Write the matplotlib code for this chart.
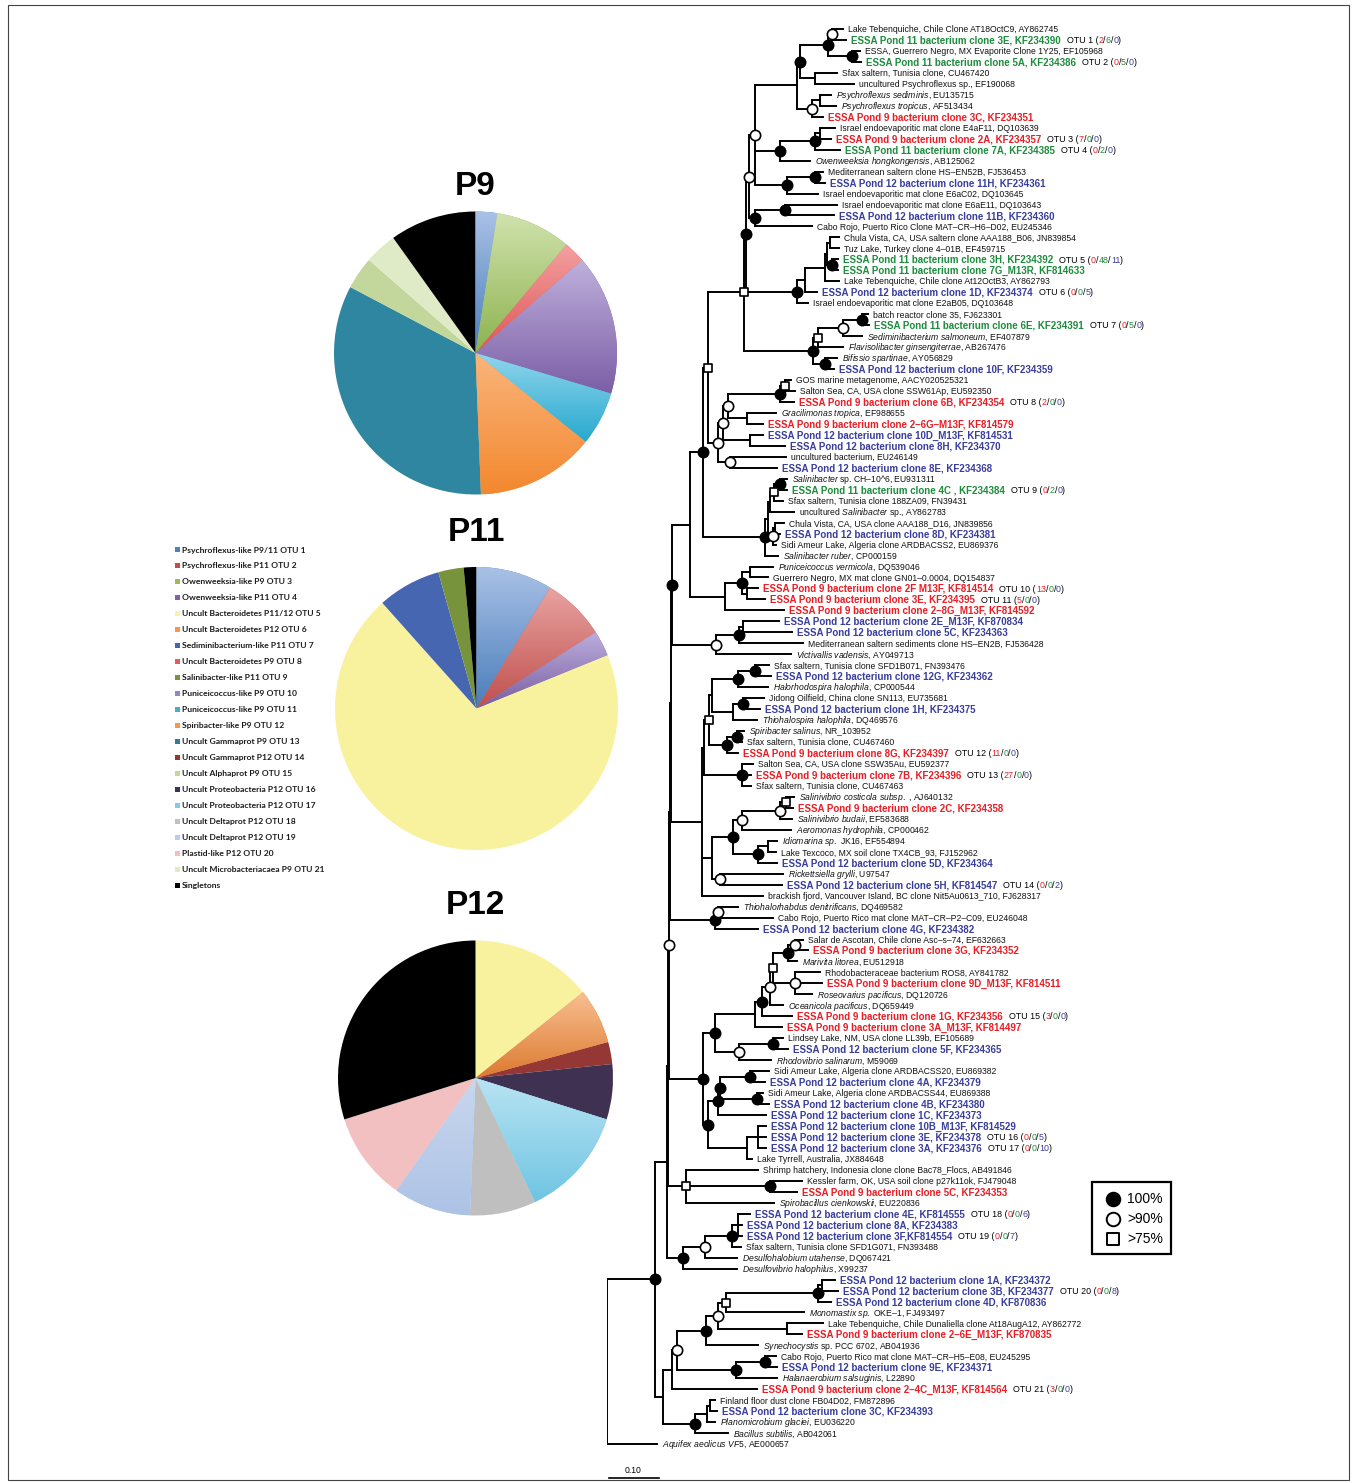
import re
import numpy as np
import matplotlib
matplotlib.use("Agg")
import matplotlib.pyplot as plt
from matplotlib.collections import LineCollection
from matplotlib.patches import Rectangle
from matplotlib.colors import to_rgb

plt.rcParams["font.family"] = ["Liberation Sans", "DejaVu Sans"]
plt.rcParams["mathtext.fontset"] = "custom"
plt.rcParams["mathtext.rm"] = "Liberation Sans"
plt.rcParams["mathtext.it"] = "Liberation Sans:italic"
plt.rcParams["mathtext.bf"] = "Liberation Sans:bold"

W, H = 1356, 1483

# ---------------- tree data ----------------
LEAF_NAMES = [
    "Lake Tebenquiche, Chile Clone AT18OctC9, AY862745",
    "ESSA Pond 11 bacterium clone 3E, KF234390",
    "ESSA, Guerrero Negro, MX Evaporite Clone 1Y25, EF105968",
    "ESSA Pond 11 bacterium clone 5A, KF234386",
    "Sfax saltern, Tunisia clone, CU467420",
    "uncultured Psychroflexus sp., EF190068",
    "*Psychroflexus sediminis*, EU135715",
    "*Psychroflexus tropicus*, AF513434",
    "ESSA Pond 9 bacterium clone 3C, KF234351",
    "Israel endoevaporitic mat clone E4aF11, DQ103639",
    "ESSA Pond 9 bacterium clone 2A, KF234357",
    "ESSA Pond 11 bacterium clone 7A, KF234385",
    "*Owenweeksia hongkongensis*, AB125062",
    "Mediterranean saltern clone HS–EN52B, FJ536453",
    "ESSA Pond 12 bacterium clone 11H, KF234361",
    "Israel endoevaporitic mat clone E6aC02, DQ103645",
    "Israel endoevaporitic mat clone E6aE11, DQ103643",
    "ESSA Pond 12 bacterium clone 11B, KF234360",
    "Cabo Rojo, Puerto Rico Clone MAT–CR–H6–D02, EU245346",
    "Chula Vista, CA, USA saltern clone AAA188_B06, JN839854",
    "Tuz Lake, Turkey clone 4–01B, EF459715",
    "ESSA Pond 11 bacterium clone 3H, KF234392",
    "ESSA Pond 11 bacterium clone 7G_M13R, KF814633",
    "Lake Tebenquiche, Chile clone At12OctB3, AY862793",
    "ESSA Pond 12 bacterium clone 1D, KF234374",
    "Israel endoevaporitic mat clone E2aB05, DQ103648",
    "batch reactor clone 35, FJ623301",
    "ESSA Pond 11 bacterium clone 6E, KF234391",
    "*Sediminibacterium salmoneum*, EF407879",
    "*Flavisolibacter ginsengiterrae*, AB267476",
    "*Bifissio spartinae*, AY056829",
    "ESSA Pond 12 bacterium clone 10F, KF234359",
    "GOS marine metagenome, AACY020525321",
    "Salton Sea, CA, USA clone SSW61Ap, EU592350",
    "ESSA Pond 9 bacterium clone 6B, KF234354",
    "*Gracilimonas tropica*, EF988655",
    "ESSA Pond 9 bacterium clone 2–6G–M13F, KF814579",
    "ESSA Pond 12 bacterium clone 10D_M13F, KF814531",
    "ESSA Pond 12 bacterium clone 8H, KF234370",
    "uncultured bacterium, EU246149",
    "ESSA Pond 12 bacterium clone 8E, KF234368",
    "*Salinibacter* sp. CH–10^6, EU931311",
    "ESSA Pond 11 bacterium clone 4C , KF234384",
    "Sfax saltern, Tunisia clone 188ZA09, FN39431",
    "uncultured *Salinibacter* sp., AY862783",
    "Chula Vista, CA, USA clone AAA188_D16, JN839856",
    "ESSA Pond 12 bacterium clone 8D, KF234381",
    "Sidi Ameur Lake, Algeria clone ARDBACSS2, EU869376",
    "*Salinibacter ruber*, CP000159",
    "*Puniceicoccus vermicola*, DQ539046",
    "Guerrero Negro, MX mat clone GN01–0.0004, DQ154837",
    "ESSA Pond 9 bacterium clone 2F M13F, KF814514",
    "ESSA Pond 9 bacterium clone 3E, KF234395",
    "ESSA Pond 9 bacterium clone 2–8G_M13F, KF814592",
    "ESSA Pond 12 bacterium clone 2E_M13F, KF870834",
    "ESSA Pond 12 bacterium clone 5C, KF234363",
    "Mediterranean saltern sediments clone HS–EN2B, FJ536428",
    "*Victivallis vadensis*, AY049713",
    "Sfax saltern, Tunisia clone SFD1B071, FN393476",
    "ESSA Pond 12 bacterium clone 12G, KF234362",
    "*Halorhodospira halophila*, CP000544",
    "Jidong Oilfield, China clone SN113, EU735681",
    "ESSA Pond 12 bacterium clone 1H, KF234375",
    "*Thiohalospira halophila*, DQ469576",
    "*Spiribacter salinus*, NR_103952",
    "Sfax saltern, Tunisia clone, CU467460",
    "ESSA Pond 9 bacterium clone 8G, KF234397",
    "Salton Sea, CA, USA clone SSW35Au, EU592377",
    "ESSA Pond 9 bacterium clone 7B, KF234396",
    "Sfax saltern, Tunisia clone, CU467463",
    "*Salinivibrio costicola subsp.* , AJ640132",
    "ESSA Pond 9 bacterium clone 2C, KF234358",
    "*Salinivibrio budaii*, EF583688",
    "*Aeromonas hydrophila*, CP000462",
    "*Idiomarina sp.* JK16, EF554894",
    "Lake Texcoco, MX soil clone TX4CB_93, FJ152962",
    "ESSA Pond 12 bacterium clone 5D, KF234364",
    "*Rickettsiella grylli*, U97547",
    "ESSA Pond 12 bacterium clone 5H, KF814547",
    "brackish fjord, Vancouver Island, BC clone Nit5Au0613_710, FJ628317",
    "*Thiohalorhabdus denitrificans*, DQ469582",
    "Cabo Rojo, Puerto Rico mat clone MAT–CR–P2–C09, EU246048",
    "ESSA Pond 12 bacterium clone 4G, KF234382",
    "Salar de Ascotan, Chile clone Asc–s–74, EF632663",
    "ESSA Pond 9 bacterium clone 3G, KF234352",
    "*Marivita litorea*, EU512918",
    "Rhodobacteraceae bacterium ROS8, AY841782",
    "ESSA Pond 9 bacterium clone 9D_M13F, KF814511",
    "*Roseovarius pacificus*, DQ120726",
    "*Oceanicola pacificus*, DQ659449",
    "ESSA Pond 9 bacterium clone 1G, KF234356",
    "ESSA Pond 9 bacterium clone 3A_M13F, KF814497",
    "Lindsey Lake, NM, USA clone LL39b, EF105689",
    "ESSA Pond 12 bacterium clone 5F, KF234365",
    "*Rhodovibrio salinarum*, M59069",
    "Sidi Ameur Lake, Algeria clone ARDBACSS20, EU869382",
    "ESSA Pond 12 bacterium clone 4A, KF234379",
    "Sidi Ameur Lake, Algeria clone ARDBACSS44, EU869388",
    "ESSA Pond 12 bacterium clone 4B, KF234380",
    "ESSA Pond 12 bacterium clone 1C, KF234373",
    "ESSA Pond 12 bacterium clone 10B_M13F, KF814529",
    "ESSA Pond 12 bacterium clone 3E, KF234378",
    "ESSA Pond 12 bacterium clone 3A, KF234376",
    "Lake Tyrrell, Australia, JX884648",
    "Shrimp hatchery, Indonesia clone clone Bac78_Flocs, AB491846",
    "Kessler farm, OK, USA soil clone p27k11ok, FJ479048",
    "ESSA Pond 9 bacterium clone 5C, KF234353",
    "*Spirobacillus cienkowskii*, EU220836",
    "ESSA Pond 12 bacterium clone 4E, KF814555",
    "ESSA Pond 12 bacterium clone 8A, KF234383",
    "ESSA Pond 12 bacterium clone 3F,KF814554",
    "Sfax saltern, Tunisia clone SFD1G071, FN393488",
    "*Desulfohalobium utahense*, DQ067421",
    "*Desulfovibrio halophilus*, X99237",
    "ESSA Pond 12 bacterium clone 1A, KF234372",
    "ESSA Pond 12 bacterium clone 3B, KF234377",
    "ESSA Pond 12 bacterium clone 4D, KF870836",
    "*Monomastix sp.* OKE–1, FJ493497",
    "Lake Tebenquiche, Chile Dunaliella clone At18AugA12, AY862772",
    "ESSA Pond 9 bacterium clone 2–6E_M13F, KF870835",
    "*Synechocystis* sp. PCC 6702, AB041936",
    "Cabo Rojo, Puerto Rico mat clone MAT–CR–H5–E08, EU245295",
    "ESSA Pond 12 bacterium clone 9E, KF234371",
    "*Halanaerobium salsuginis*, L22890",
    "ESSA Pond 9 bacterium clone 2–4C_M13F, KF814564",
    "Finland floor dust clone FB04D02, FM872896",
    "ESSA Pond 12 bacterium clone 3C, KF234393",
    "*Planomicrobium glaciei*, EU036220",
    "*Bacillus subtilis*, AB042061",
    "*Aquifex aeolicus VF5*, AE000657",
]

# newick pieces: leaf = index into LEAF_NAMES (1-based), F = 100%, O = >90%, S = >75%
A = "((1:.022,2:.028)O:.008,(3:.016,4:.018)F:.048)F"
D = f"({A}:.056,(5:.044,6:.078):.030)F"
E = f"({D}:.006,((7:.022,8:.032):.016,9:.022)O:.030)"
G = "(((10:.030,11:.022):.010,12:.050)F:.070,13:.060)F"
J = "((14:.016,15:.020)F:.056,16:.062)F"
HH = f"({E}:.084,{G}:.050,{J}:.064)O"
L = "((17:.104,18:.098)F:.060,19:.114)F"
M0 = f"({HH}:.012,{L}:.012)O"
X3 = "((20:.018,21:.018):.006,(22:.012,23:.012)F:.010)"
Y2 = f"((({X3}:.004,24:.028):.040,25:.024):.016,26:.022)F"
WW = "((((27:.012,28:.014)F:.038,29:.038)O:.050,30:.050)S:.010,(31:.024,32:.018)F:.024)F"
N1 = f"(({M0}:.006,{Y2}:.102)F:.004,{WW}:.138)S"
R1 = "((33:.012,34:.020)S:.010,35:.028)F"
R2 = f"({R1}:.104,(36:.058,37:.032):.038)O"
R3 = f"({R2}:.010,(38:.026,39:.070):.054)O"
R4 = f"({R3}:.010,(40:.112,41:.094)O:.024)O"
SQ = f"({N1}:.072,{R4}:.020)S"
N45 = "(((42:.014,43:.014)F:.012,44:.018)S:.008,45:.048)"
OS = "((46:.018,47:.010):.004,48:.006)O"
S2 = f"(({N45}:.004,{OS}:.010):.006,49:.026)F"
Q = f"({SQ}:.010,{S2}:.124)F"
P2 = "(((50:.046,51:.036):.016,(52:.022,53:.036):.010)F:.034,54:.118)"
V2 = "(((55:.072,56:.098):.008,57:.128)F:.046,58:.150)O"
G3 = "(((59:.028,60:.032)F:.034,61:.060)F:.052,((62:.042,63:.034)F:.020,64:.048):.042)"
G4a = "((65:.014,66:.010)F:.020,67:.022)F"
GA = f"(({G3}:.006,{G4a}:.036)S:.010,(68:.022,69:.018,70:.018)F:.076)"
O73 = "((71:.016,72:.014)S:.012,73:.024)O"
F733 = f"(({O73}:.076,74:.098)O:.018,((75:.018,76:.016):.020,77:.038)F:.050)F"
G5 = f"({F733}:.042,(78:.126,79:.124)O:.016)"
GAM = f"({GA}:.004,{G5}:.020,80:.122)"
T1 = "((81:.040,82:.110)O:.006,83:.086)F"
A4 = "(((84:.016,85:.026)O:.014,86:.018)F:.030,(87:.050,88:.054,89:.034)O:.044)S"
A7 = f"((({A4}:.006,90:.026)O:.016,91:.060)F:.014,92:.054)"
A8 = f"({A7}:.080,((93:.020,94:.030)F:.068,95:.064)O:.048)F"
B4 = "(((96:.038,97:.030)F:.060,(98:.012,99:.024)F:.074)F:.004,100:.096)F"
B7 = f"({B4}:.020,((101:.016,102:.016,103:.016):.022,104:.010):.078)F"
AL = f"({A8}:.024,{B7}:.010)F"
BK3 = "(105:.144,(106:.064,107:.054)F:.168,108:.176)S"
DEL = "((((109:.024,110:.008,111:.008):.012,112:.018)F:.054,113:.064)O:.044,114:.108)F"
D5 = "((((115:.026,116:.032):.008,117:.026)F:.184,118:.156)S:.016,(119:.072,120:.030):.138)O"
D9 = f"(({D5}:.024,121:.104)F:.058,((122:.022,123:.024)F:.058,124:.082)F:.118)O"
LB = f"(({D9}:.010,125:.170):.018,(((126:.010,127:.014):.006,128:.016):.024,129:.066)F:.064)"
# backbone: short internal branches stacked along one line
K1 = f"(({Q}:.026,{P2}:.070):.036,{V2}:.088)F"
K4 = f"((({K1}:.002,{GAM}:.062):.002,{T1}:.090):.002,{AL}:.068)O"
K6 = f"(({K4}:.002,{BK3}:.036):.002,{DEL}:.032)"
TREE = f"(({K6}:.024,{LB}:.016)F:.096,130:.100)"

# OTU table: leaf carrying the OTU label, clone counts in P9 / P11 / P12
OTU_LEAF = [2, 4, 11, 12, 22, 25, 28, 35, 43, 52, 53, 67, 69, 79, 91, 102, 103, 109, 111, 116, 125]
OTU_P9 = [2, 0, 7, 0, 0, 0, 0, 2, 0, 13, 5, 11, 27, 0, 3, 0, 0, 0, 0, 0, 3]
OTU_P11 = [6, 5, 0, 2, 48, 0, 5, 0, 2, 0, 0, 0, 0, 0, 0, 0, 0, 0, 0, 0, 0]
OTU_P12 = [0, 0, 0, 0, 11, 5, 0, 0, 0, 0, 0, 0, 0, 2, 0, 5, 10, 6, 7, 8, 0]
SINGLETONS = [8, 1, 23]
POND_NAMES = ["P9", "P11", "P12"]

LEGEND_NAMES = [
    "Psychroflexus-like P9/11 OTU 1", "Psychroflexus-like P11 OTU 2",
    "Owenweeksia-like P9 OTU 3", "Owenweeksia-like P11 OTU 4",
    "Uncult Bacteroidetes P11/12 OTU 5", "Uncult Bacteroidetes P12 OTU 6",
    "Sediminibacterium-like P11 OTU 7", "Uncult Bacteroidetes P9 OTU 8",
    "Salinibacter-like P11 OTU 9", "Puniceicoccus-like P9 OTU 10",
    "Puniceicoccus-like P9 OTU 11", "Spiribacter-like P9 OTU 12",
    "Uncult Gammaprot P9 OTU 13", "Uncult Gammaprot P12 OTU 14",
    "Uncult Alphaprot P9 OTU 15", "Uncult Proteobacteria P12 OTU 16",
    "Uncult Proteobacteria P12 OTU 17", "Uncult Deltaprot P12 OTU 18",
    "Uncult Deltaprot P12 OTU 19", "Plastid-like P12 OTU 20",
    "Uncult Microbacteriacaea P9 OTU 21", "Singletons",
]

# slice colours: bottom (base) and top of the vertical gradient
OTU_BASE = ["#4a7ebb", "#c0504d", "#8db34f", "#7a5fa0", "#f8f29e", "#dc7a30", "#4666b1",
            "#e05555", "#77933c", "#7b5ea6", "#27a9cf", "#f3882f", "#2e86a0", "#953735",
            "#c3d69b", "#3f3151", "#6fc5e2", "#bfbfbf", "#adc3e6", "#f2c0c0", "#dfeac6", "#000000"]
OTU_TOP = ["#a9c1e6", "#e8a3a1", "#d0e2ad", "#bcaede", "#f8f29e", "#f9bf92", "#4666b1",
           "#f4a0a0", "#77933c", "#bfb0dc", "#90d5ec", "#fab57c", "#2e86a0", "#953735",
           "#c3d69b", "#3f3151", "#b8e3f3", "#bfbfbf", "#c9d7ee", "#f2c0c0", "#dfeac6", "#000000"]
LEGEND_COLORS = ["#4f81bd", "#c0504d", "#9bbb59", "#8064a2", "#faf3a5", "#f79646", "#4466b0",
                 "#e35b5b", "#77933c", "#9585c2", "#4bacc6", "#f79646", "#2e7d95", "#953735",
                 "#c3d69b", "#3f3151", "#7fcde8", "#c0c0c0", "#b9cde5", "#f2bfbf", "#dfeac6", "#000000"]

RED, GREEN, BLUE = "#ea1d25", "#1d8c3c", "#393d9c"


# ---------------- helpers ----------------
def parse(s):
    pos = 0

    def node():
        nonlocal pos
        kids = []
        if s[pos] == "(":
            pos += 1
            while True:
                kids.append(node())
                c = s[pos]
                pos += 1
                if c == ")":
                    break
        tag = ""
        while pos < len(s) and s[pos] not in ":,()":
            tag += s[pos]
            pos += 1
        length = 0.0
        if pos < len(s) and s[pos] == ":":
            pos += 1
            num = ""
            while pos < len(s) and s[pos] not in ",()":
                num += s[pos]
                pos += 1
            length = float(num)
        return {"tag": tag, "len": length, "kids": kids}

    return node()


def to_math(s):
    return re.sub(r"\*(.+?)\*",
                  lambda m: "$\\mathit{" + m.group(1).replace(" ", "\\ ") + "}$", s)


def pond_color(name):
    if name.startswith("ESSA Pond 9 "):
        return RED
    if name.startswith("ESSA Pond 11 "):
        return GREEN
    if name.startswith("ESSA Pond 12 "):
        return BLUE
    return None


root = parse(TREE)
leaves = []


def layout(n, x):
    n["x"] = x + n["len"]
    if n["kids"]:
        for k in n["kids"]:
            layout(k, n["x"])
        n["y"] = (n["kids"][0]["y"] + n["kids"][-1]["y"]) / 2
    else:
        n["y"] = len(leaves)
        leaves.append(n)


layout(root, 0.0)

fig = plt.figure(figsize=(W / 100, H / 100), dpi=100)
base = fig.add_axes([0, 0, 1, 1])
base.set_xlim(0, W)
base.set_ylim(H, 0)
base.axis("off")

# tree axes: 0.10 substitutions = 50 px, one leaf = 10.97 px
X0, PXU, Y0, DY = 607, 500.0, 29, 10.97
nl = len(leaves)
tx = fig.add_axes([X0 / W, 1 - (Y0 + (nl - 0.5) * DY) / H, (W - X0) / W, nl * DY / H])
tx.set_xlim(0, (W - X0) / PXU)
tx.set_ylim(nl - 0.5, -0.5)
tx.axis("off")
tx.patch.set_alpha(0)

segs = []
marks = {"F": [], "O": [], "S": []}


def collect(n):
    if not n["kids"]:
        return
    segs.append([(n["x"], n["kids"][0]["y"]), (n["x"], n["kids"][-1]["y"])])
    for k in n["kids"]:
        segs.append([(n["x"], k["y"]), (k["x"], k["y"])])
        collect(k)
    if n["tag"] in marks:
        marks[n["tag"]].append((n["x"], n["y"]))


collect(root)
tx.add_collection(LineCollection(segs, colors="black", linewidths=1.4, capstyle="projecting"))
for key, face, mk, sz in [("F", "black", "o", 55), ("O", "white", "o", 55), ("S", "white", "s", 38)]:
    if marks[key]:
        pts = np.array(marks[key])
        tx.scatter(pts[:, 0], pts[:, 1], s=sz, marker=mk, facecolor=face,
                   edgecolor="black", linewidths=1.2, zorder=5)

renderer = fig.canvas.get_renderer()
inv = tx.transData.inverted()
otu_of = {leaf: i for i, leaf in enumerate(OTU_LEAF)}
for leaf in leaves:
    idx = int(leaf["tag"])
    name = LEAF_NAMES[idx - 1]
    col = pond_color(name)
    if col:
        t = tx.text(leaf["x"] + 0.010, leaf["y"] + 0.32, name, color=col, fontsize=7.0,
                    fontweight="bold", va="baseline")
    else:
        t = tx.text(leaf["x"] + 0.010, leaf["y"] + 0.29, to_math(name), color="#111111",
                    fontsize=6.2, va="baseline")
    if idx in otu_of:
        i = otu_of[idx]
        bb = t.get_window_extent(renderer=renderer)
        x = inv.transform((bb.x1, bb.y0))[0] + 0.012
        parts = [(f"OTU {i + 1} (", "black"), (str(OTU_P9[i]), RED), ("/", "black"),
                 (str(OTU_P11[i]), GREEN), ("/", "black"), (str(OTU_P12[i]), BLUE), (")", "black")]
        for txt, c in parts:
            s = tx.text(x, leaf["y"] + 0.29, txt, color=c, fontsize=6.4, va="baseline")
            bb = s.get_window_extent(renderer=renderer)
            x = inv.transform((bb.x1, bb.y0))[0]

# scale bar
sb_y = (1478 - Y0) / DY
tx.plot([0.004, 0.104], [sb_y, sb_y], color="black", lw=1.2, clip_on=False)
tx.text(0.052, sb_y - 0.45, "0.10", ha="center", va="baseline", fontsize=6.2, clip_on=False)

# support legend box
base.add_patch(Rectangle((1092, 1182), 79, 72, fill=False, lw=1.6, edgecolor="black"))
for yy, face, mk, sz, lab in [(1199, "black", "o", 95, "100%"), (1219, "white", "o", 95, ">90%"),
                              (1239, "white", "s", 70, ">75%")]:
    base.scatter([1113], [yy], s=sz, marker=mk, facecolor=face, edgecolor="black", linewidths=1.4)
    base.text(1127, yy, lab, fontsize=10, va="center", ha="left")

# ---------------- pies ----------------
PIES = [(475.5, 353, 141.5, 186.5), (476.5, 708.5, 141.5, 532.5), (475.5, 1078, 137.5, 905)]
counts = [OTU_P9, OTU_P11, OTU_P12]
for (cx, cy, r, ty), cnt, single, pname in zip(PIES, counts, SINGLETONS, POND_NAMES):
    pax = fig.add_axes([(cx - r) / W, 1 - (cy + r) / H, 2 * r / W, 2 * r / H])
    ids = [i for i, v in enumerate(cnt) if v > 0] + [21]
    vals = [cnt[i] for i in ids[:-1]] + [single]
    wedges, _ = pax.pie(vals, colors=[OTU_BASE[i] for i in ids], startangle=90,
                        counterclock=False, wedgeprops=dict(linewidth=0))
    for w, i in zip(wedges, ids):
        top, bot = np.array(to_rgb(OTU_TOP[i])), np.array(to_rgb(OTU_BASE[i]))
        if np.allclose(top, bot):
            continue
        th = np.radians(np.linspace(w.theta1, w.theta2, 80))
        xs = np.concatenate([[0], np.cos(th)])
        ys = np.concatenate([[0], np.sin(th)])
        f = np.linspace(0, 1, 96)[:, None]
        img = ((1 - f) * top + f * bot).reshape(96, 1, 3)
        im = pax.imshow(img, extent=(xs.min(), xs.max(), ys.min(), ys.max()),
                        aspect="auto", interpolation="bilinear", zorder=2)
        im.set_clip_path(w)
    pax.set_xlim(-1, 1)
    pax.set_ylim(-1, 1)
    pax.set_aspect("equal")
    pax.axis("off")
    base.text(cx, ty, pname, fontsize=24, fontweight="bold", ha="center", va="center")

# OTU colour legend
for k, (lab, c) in enumerate(zip(LEGEND_NAMES, LEGEND_COLORS)):
    yy = 550 + k * 15.99
    base.add_patch(Rectangle((174.5, yy - 2.6), 5, 5, facecolor=c, edgecolor="none"))
    base.text(182, yy, lab, fontsize=6.1, fontweight="bold", family=["Lato", "DejaVu Sans"],
              va="center", ha="left", color="#1a1a1a")

# frame
base.add_patch(Rectangle((8, 5), 1341, 1475, fill=False, lw=0.8, edgecolor="#444444"))

fig.savefig("out.png", dpi=100)
